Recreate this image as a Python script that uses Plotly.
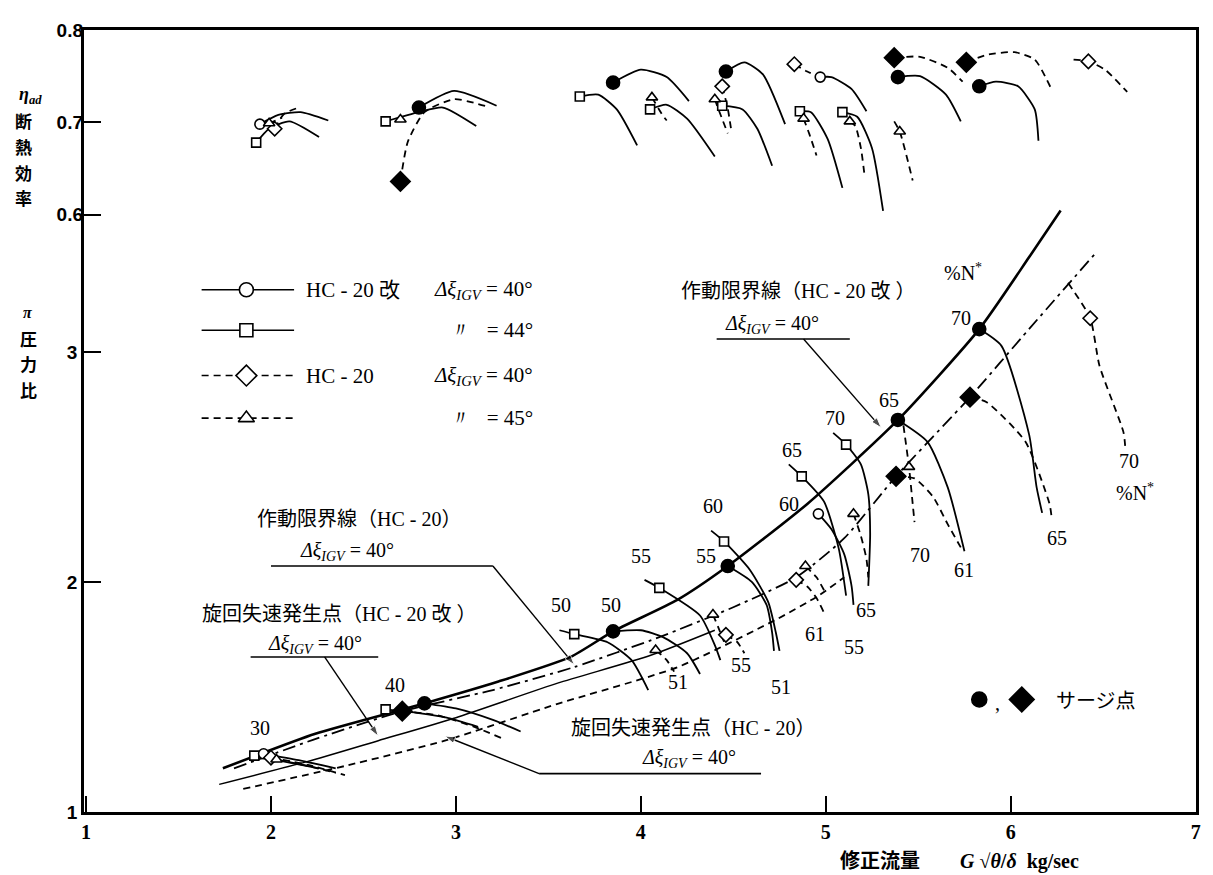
import plotly.graph_objects as go

# ---------------- DATA (flow G*sqrt(theta)/delta [kg/s], pressure ratio pi, efficiency eta) ----------------
# Operating-limit (surge) line HC-20 kai, IGV 40 deg (solid, thick)
SURGE_K_X = [1.74, 2.24, 2.71, 2.83, 3.23, 3.62, 3.85, 4.20, 4.47, 4.90, 5.39, 5.83, 6.10, 6.27]
SURGE_K_PI = [1.19, 1.34, 1.445, 1.472, 1.567, 1.674, 1.785, 1.923, 2.069, 2.339, 2.704, 3.099, 3.412, 3.614]
# Operating-limit line HC-20, IGV 40 deg (dash-dot)
SURGE_H_X = [1.80, 2.25, 2.71, 3.20, 3.64, 4.10, 4.50, 4.84, 5.10, 5.38, 5.78, 6.10, 6.46]
SURGE_H_PI = [1.19, 1.32, 1.438, 1.53, 1.63, 1.76, 1.89, 2.02, 2.19, 2.459, 2.803, 3.10, 3.43]
# Rotating-stall onset HC-20 kai (thin solid)
STALL_K_X = [1.72, 2.20, 2.58, 3.00, 3.55, 4.05, 4.40]
STALL_K_PI = [1.12, 1.22, 1.31, 1.41, 1.56, 1.68, 1.79]
# Rotating-stall onset HC-20 (dashed)
STALL_H_X = [1.85, 2.40, 2.94, 3.55, 4.20, 4.74, 4.96, 5.10]
STALL_H_PI = [1.10, 1.20, 1.31, 1.47, 1.63, 1.84, 1.94, 2.02]

# Speed lines, pressure plane -- HC-20 kai 44 deg (solid, open square)
SQ30_X = [1.91, 2.10, 2.26];             SQ30_PI = [1.245, 1.215, 1.19]
SQ40_X = [2.62, 2.80, 2.95, 3.12];       SQ40_PI = [1.446, 1.43, 1.41, 1.37]
SQ50_X = [3.56, 3.64, 3.82, 3.95, 4.04]; SQ50_PI = [1.79, 1.773, 1.738, 1.66, 1.53]
SQ55_X = [4.02, 4.10, 4.32, 4.40, 4.43]; SQ55_PI = [2.009, 1.974, 1.854, 1.725, 1.66]
SQ60_X = [4.38, 4.45, 4.59, 4.69, 4.73, 4.75]; SQ60_PI = [2.223, 2.176, 2.052, 1.91, 1.78, 1.70]
SQ65_X = [4.80, 4.87, 4.99, 5.07, 5.11]; SQ65_PI = [2.511, 2.459, 2.35, 2.146, 1.94]
SQ70_X = [5.04, 5.11, 5.19, 5.23, 5.24, 5.23]; SQ70_PI = [2.648, 2.597, 2.511, 2.382, 2.21, 1.983]
# HC-20 kai 40 deg (solid, circle)
C30_X = [1.96, 2.15, 2.35];              C30_PI = [1.253, 1.225, 1.19]
C40_X = [2.83, 3.00, 3.20, 3.35];        C40_PI = [1.472, 1.45, 1.40, 1.35]
C50_X = [3.85, 4.00, 4.12, 4.25, 4.32];  C50_PI = [1.785, 1.79, 1.76, 1.69, 1.60]
C55_X = [4.47, 4.60, 4.68, 4.71, 4.72];  C55_PI = [2.069, 2.00, 1.90, 1.78, 1.70]
C60_X = [4.96, 5.03, 5.10, 5.14, 5.15];  C60_PI = [2.296, 2.23, 2.12, 1.98, 1.90]
C65_X = [5.39, 5.55, 5.66, 5.75];        C65_PI = [2.704, 2.609, 2.41, 2.133]
C70_X = [5.83, 5.95, 6.10, 6.14, 6.17];  C70_PI = [3.099, 3.026, 2.639, 2.412, 2.30]
# HC-20 40 deg (dashed, diamond)
D30_X = [2.00, 2.20, 2.40];              D30_PI = [1.236, 1.205, 1.16]
D40_X = [2.71, 2.90, 3.10, 3.25];        D40_PI = [1.438, 1.42, 1.37, 1.32]
D55_X = [4.46, 4.52, 4.56];              D55_PI = [1.77, 1.74, 1.69]
D61_X = [4.84, 4.90, 4.95, 4.99];        D61_PI = [2.009, 1.98, 1.93, 1.867]
D61S_X = [5.38, 5.48, 5.58, 5.66, 5.73]; D61S_PI = [2.459, 2.45, 2.37, 2.25, 2.15]
D65S_X = [5.78, 5.87, 6.08, 6.21, 6.22]; D65S_PI = [2.803, 2.781, 2.609, 2.339, 2.29]
D70_X = [6.31, 6.43, 6.48, 6.61, 6.62];  D70_PI = [3.30, 3.146, 2.94, 2.65, 2.58]
# HC-20 45 deg (dashed, triangle)
T30_X = [2.03, 2.20, 2.35];              T30_PI = [1.228, 1.20, 1.17]
T51_X = [4.08, 4.14, 4.18];              T51_PI = [1.704, 1.66, 1.61]
T55_X = [4.39, 4.42, 4.45];              T55_PI = [1.858, 1.80, 1.74]
T61_X = [4.89, 4.95, 5.00];              T61_PI = [2.069, 2.02, 1.95]
T65_X = [5.15, 5.19, 5.22, 5.23];        T65_PI = [2.296, 2.20, 2.10, 2.02]
T70_X = [5.42, 5.45, 5.47, 5.48];        T70_PI = [2.68, 2.50, 2.34, 2.26]

# Efficiency plane
E_C30_X = [1.94, 2.04, 2.16, 2.31];       E_C30 = [0.698, 0.708, 0.711, 0.702]
E_SQ30_X = [1.92, 1.99, 2.10, 2.26];      E_SQ30 = [0.678, 0.693, 0.701, 0.684]
E_D30_X = [2.02, 2.07, 2.15];             E_D30 = [0.693, 0.709, 0.716]
E_T30_X = [1.99, 2.06];                   E_T30 = [0.699, 0.705]
E_C40_X = [2.80, 2.99, 3.22];             E_C40 = [0.716, 0.734, 0.718]
E_D40_X = [2.70, 2.74, 2.83, 2.99, 3.17]; E_D40 = [0.636, 0.679, 0.711, 0.725, 0.717]
E_SQ40_X = [2.62, 2.80, 2.93, 3.11];      E_SQ40 = [0.701, 0.711, 0.716, 0.696]
E_T40_X = [2.70];                         E_T40 = [0.703]
E_SQ50_X = [3.67, 3.77, 3.87, 3.98];      E_SQ50 = [0.728, 0.730, 0.714, 0.675]
E_C50_X = [3.85, 4.00, 4.14, 4.26];       E_C50 = [0.743, 0.757, 0.749, 0.723]
E_SQ55_X = [4.05, 4.14, 4.25, 4.40];      E_SQ55 = [0.714, 0.719, 0.704, 0.663]
E_T51_X = [4.06, 4.12, 4.14];             E_T51 = [0.727, 0.707, 0.702]
E_C55_X = [4.46, 4.56, 4.66, 4.78];       E_C55 = [0.755, 0.765, 0.752, 0.698]
E_D55_X = [4.44, 4.47, 4.49];             E_D55 = [0.739, 0.715, 0.690]
E_SQ60_X = [4.44, 4.55, 4.63, 4.71];      E_SQ60 = [0.718, 0.714, 0.693, 0.653]
E_T55_X = [4.40, 4.42, 4.47];             E_T55 = [0.725, 0.714, 0.688]
E_D61_X = [4.83, 4.90, 4.97];             E_D61 = [0.763, 0.755, 0.749]
E_C60_X = [4.97, 5.03, 5.14, 5.22];       E_C60 = [0.749, 0.749, 0.736, 0.712]
E_SQ65_X = [4.86, 4.92, 5.01, 5.09];      E_SQ65 = [0.712, 0.711, 0.682, 0.629]
E_T61_X = [4.88, 4.91, 4.95];             E_T61 = [0.704, 0.688, 0.664]
E_SQ70_X = [5.09, 5.17, 5.25, 5.31];      E_SQ70 = [0.711, 0.706, 0.672, 0.604]
E_T65_X = [5.13, 5.16, 5.19, 5.21];       E_T65 = [0.701, 0.696, 0.672, 0.642]
E_D61S_X = [5.37, 5.51, 5.66, 5.74];      E_D61S = [0.770, 0.771, 0.759, 0.744]
E_C65_X = [5.39, 5.51, 5.65, 5.73];       E_C65 = [0.749, 0.750, 0.730, 0.701]
E_T70_X = [5.37, 5.40, 5.47];             E_T70 = [0.701, 0.690, 0.637]
E_D65S_X = [5.76, 5.87, 6.02, 6.13, 6.22]; E_D65S = [0.765, 0.773, 0.776, 0.768, 0.736]
E_C70_X = [5.83, 5.92, 6.04, 6.13, 6.15]; E_C70 = [0.739, 0.744, 0.739, 0.714, 0.680]
E_D70_X = [6.34, 6.42, 6.51, 6.63];       E_D70 = [0.768, 0.766, 0.757, 0.733]

# Speed labels (% N*)
SPD_TXT = ["30", "40", "50", "50", "55", "55", "60", "60", "65", "70", "65", "70",
           "51", "55", "51", "61", "55", "65", "70", "61", "65", "70"]
SPD_X = [1.94, 2.67, 3.57, 3.84, 4.00, 4.35, 4.39, 4.80, 4.82, 5.05, 5.34, 5.73,
         4.20, 4.54, 4.76, 4.94, 5.15, 5.22, 5.51, 5.75, 6.25, 6.64]
SPD_PI = [1.365, 1.554, 1.901, 1.901, 2.112, 2.112, 2.330, 2.339, 2.575, 2.712, 2.790, 3.146,
          1.567, 1.639, 1.545, 1.773, 1.717, 1.880, 2.116, 2.052, 2.189, 2.524]

X_TICKS = [1, 2, 3, 4, 5, 6, 7]
PI_TICKS = [1, 2, 3]
ETA_TICKS = [0.6, 0.7, 0.8]

# ---------------- STYLE ----------------
SERIF = "Liberation Serif"
CJK = "Noto Sans CJK JP"
W = 1.8

fig = go.Figure()


def line(x, y, dash="solid", width=W, axis="y"):
    fig.add_trace(go.Scatter(x=x, y=y, mode="lines", yaxis=axis, hoverinfo="skip", showlegend=False,
                             line=dict(color="black", width=width, dash=dash, shape="spline", smoothing=0.6)))


def mark(x, y, symbol, size, filled, axis="y"):
    fig.add_trace(go.Scatter(x=[x], y=[y], mode="markers", yaxis=axis, hoverinfo="skip", showlegend=False,
                             marker=dict(symbol=symbol, size=size, color="black" if filled else "white",
                                         line=dict(color="black", width=1.6))))


def leader(x0, y0, x1, y1):
    fig.add_trace(go.Scatter(x=[x0, x1], y=[y0, y1], mode="lines+markers", hoverinfo="skip", showlegend=False,
                             line=dict(color="black", width=1.4),
                             marker=dict(symbol="arrow", size=[0, 11], angleref="previous", color="black")))


DASH = "7px,5px"
DASHDOT = "13px,5px,3px,5px"
SYM = {"c": ("circle", 10), "s": ("square", 9), "d": ("diamond", 11), "t": ("triangle-up", 10)}
SYM_F = {"c": ("circle", 13), "d": ("diamond", 15)}

# main limit lines
line(SURGE_K_X, SURGE_K_PI, "solid", 2.6)
line(SURGE_H_X, SURGE_H_PI, DASHDOT, 1.8)
line(STALL_K_X, STALL_K_PI, "solid", 1.5)
line(STALL_H_X, STALL_H_PI, DASH, 1.8)

# (x, y, dash, symbol kind, filled, marker index, axis)
SPEED_LINES = [
    (SQ30_X, SQ30_PI, "solid", "s", False, 0, "y"), (SQ40_X, SQ40_PI, "solid", "s", False, 0, "y"),
    (SQ50_X, SQ50_PI, "solid", "s", False, 1, "y"), (SQ55_X, SQ55_PI, "solid", "s", False, 1, "y"),
    (SQ60_X, SQ60_PI, "solid", "s", False, 1, "y"), (SQ65_X, SQ65_PI, "solid", "s", False, 1, "y"),
    (SQ70_X, SQ70_PI, "solid", "s", False, 1, "y"),
    (C30_X, C30_PI, "solid", "c", False, 0, "y"), (C40_X, C40_PI, "solid", "c", True, 0, "y"),
    (C50_X, C50_PI, "solid", "c", True, 0, "y"), (C55_X, C55_PI, "solid", "c", True, 0, "y"),
    (C60_X, C60_PI, "solid", "c", False, 0, "y"), (C65_X, C65_PI, "solid", "c", True, 0, "y"),
    (C70_X, C70_PI, "solid", "c", True, 0, "y"),
    (D30_X, D30_PI, DASH, "d", False, 0, "y"), (D40_X, D40_PI, DASH, "d", True, 0, "y"),
    (D55_X, D55_PI, DASH, "d", False, 0, "y"), (D61_X, D61_PI, DASH, "d", False, 0, "y"),
    (D61S_X, D61S_PI, DASH, "d", True, 0, "y"), (D65S_X, D65S_PI, DASH, "d", True, 0, "y"),
    (D70_X, D70_PI, DASH, "d", False, 1, "y"),
    (T30_X, T30_PI, DASH, "t", False, 0, "y"), (T51_X, T51_PI, DASH, "t", False, 0, "y"),
    (T55_X, T55_PI, DASH, "t", False, 0, "y"), (T61_X, T61_PI, DASH, "t", False, 0, "y"),
    (T65_X, T65_PI, DASH, "t", False, 0, "y"), (T70_X, T70_PI, DASH, "t", False, 1, "y"),
    # efficiency plane
    (E_C30_X, E_C30, "solid", "c", False, 0, "y2"), (E_SQ30_X, E_SQ30, "solid", "s", False, 0, "y2"),
    (E_D30_X, E_D30, DASH, "d", False, 0, "y2"), (E_T30_X, E_T30, DASH, "t", False, 0, "y2"),
    (E_C40_X, E_C40, "solid", "c", True, 0, "y2"), (E_D40_X, E_D40, DASH, "d", True, 0, "y2"),
    (E_SQ40_X, E_SQ40, "solid", "s", False, 0, "y2"), (E_T40_X, E_T40, DASH, "t", False, 0, "y2"),
    (E_SQ50_X, E_SQ50, "solid", "s", False, 0, "y2"), (E_C50_X, E_C50, "solid", "c", True, 0, "y2"),
    (E_SQ55_X, E_SQ55, "solid", "s", False, 0, "y2"), (E_T51_X, E_T51, DASH, "t", False, 0, "y2"),
    (E_C55_X, E_C55, "solid", "c", True, 0, "y2"), (E_D55_X, E_D55, DASH, "d", False, 0, "y2"),
    (E_SQ60_X, E_SQ60, "solid", "s", False, 0, "y2"), (E_T55_X, E_T55, DASH, "t", False, 0, "y2"),
    (E_D61_X, E_D61, DASH, "d", False, 0, "y2"), (E_C60_X, E_C60, "solid", "c", False, 0, "y2"),
    (E_SQ65_X, E_SQ65, "solid", "s", False, 0, "y2"), (E_T61_X, E_T61, DASH, "t", False, 0, "y2"),
    (E_SQ70_X, E_SQ70, "solid", "s", False, 0, "y2"), (E_T65_X, E_T65, DASH, "t", False, 0, "y2"),
    (E_D61S_X, E_D61S, DASH, "d", True, 0, "y2"), (E_C65_X, E_C65, "solid", "c", True, 0, "y2"),
    (E_T70_X, E_T70, DASH, "t", False, 1, "y2"), (E_D65S_X, E_D65S, DASH, "d", True, 0, "y2"),
    (E_C70_X, E_C70, "solid", "c", True, 0, "y2"), (E_D70_X, E_D70, DASH, "d", False, 1, "y2"),
]

for xs, ys, dash, kind, filled, mi, ax in SPEED_LINES:
    if len(xs) > 1:
        line(xs, ys, dash, W, ax)
for xs, ys, dash, kind, filled, mi, ax in SPEED_LINES:
    sym, size = (SYM_F[kind] if filled else SYM[kind])
    mark(xs[mi], ys[mi], sym, size, filled, ax)

annotations = []
for t, x, y in zip(SPD_TXT, SPD_X, SPD_PI):
    annotations.append(dict(x=x, y=y, xref="x", yref="y", text=t, showarrow=False,
                            font=dict(family=SERIF, size=20, color="black")))
for x, y in [(5.74, 3.348), (6.67, 2.391)]:
    annotations.append(dict(x=x, y=y, xref="x", yref="y", text="%N<sup>*</sup>", showarrow=False,
                            font=dict(family=SERIF, size=20, color="black")))

DXI = "<i>Δξ<sub>IGV</sub></i> = 40°"


def label_block(title, tx, ty, dx, dy, ux0, ux1, uy, tipx, tipy, lx):
    annotations.append(dict(x=tx, y=ty, xref="x", yref="y", text=title, showarrow=False,
                            font=dict(family=SERIF + ", " + CJK, size=20, color="black")))
    annotations.append(dict(x=dx, y=dy, xref="x", yref="y", text=DXI, showarrow=False,
                            font=dict(family=SERIF, size=20, color="black")))
    fig.add_shape(type="line", x0=ux0, x1=ux1, y0=uy, y1=uy, xref="x", yref="y",
                  line=dict(color="black", width=1.6))
    leader(lx, uy, tipx, tipy)


label_block("作動限界線（HC - 20 改 ）", 4.85, 3.265, 4.71, 3.118, 4.41, 5.13, 3.056, 5.30, 2.67, 4.88)
label_block("作動限界線（HC - 20）", 2.475, 2.275, 2.41, 2.132, 2.00, 3.20, 2.069, 3.64, 1.64, 3.20)
label_block("旋回失速発生点（HC - 20 改 ）", 2.37, 1.862, 2.24, 1.727, 1.89, 2.58, 1.674, 2.58, 1.33, 2.29)
label_block("旋回失速発生点（HC - 20）", 4.28, 1.366, 4.26, 1.232, 3.45, 4.65, 1.167, 2.94, 1.33, 3.45)

# Legend (upper-left box)
LEG_X0, LEG_XM, LEG_X1 = 1.625, 1.867, 2.125
LEG_ROWS = [3.270, 3.094, 2.897, 2.712]
LEG_STYLE = [("solid", "c"), ("solid", "s"), (DASH, "d"), (DASH, "t")]
LEG_SIZE = {"c": 14, "s": 13, "d": 16, "t": 14}
for yy, (dash, kind) in zip(LEG_ROWS, LEG_STYLE):
    fig.add_trace(go.Scatter(x=[LEG_X0, LEG_X1], y=[yy, yy], mode="lines", hoverinfo="skip", showlegend=False,
                             line=dict(color="black", width=1.6, dash=dash)))
    mark(LEG_XM, yy, SYM[kind][0], LEG_SIZE[kind], False)
LEG_LEFT_TXT = ["HC - 20 改", "", "HC - 20", ""]
LEG_RIGHT_TXT = [DXI, "〃   = 44°", DXI, "〃   = 45°"]
for yy, lt, rt in zip(LEG_ROWS, LEG_LEFT_TXT, LEG_RIGHT_TXT):
    if lt:
        annotations.append(dict(x=2.18, y=yy, xref="x", yref="y", xanchor="left", text=lt, showarrow=False,
                                font=dict(family=SERIF + ", " + CJK, size=21, color="black")))
    annotations.append(dict(x=3.43, y=yy, xref="x", yref="y", xanchor="right", text=rt, showarrow=False,
                            font=dict(family=SERIF, size=21, color="black")))

# Surge-point key
mark(5.83, 1.489, "circle", 15, True)
mark(6.06, 1.489, "diamond", 19, True)
annotations.append(dict(x=5.93, y=1.475, xref="x", yref="y", text=",", showarrow=False,
                        font=dict(family=SERIF, size=20, color="black")))
annotations.append(dict(x=6.46, y=1.489, xref="x", yref="y", text="サージ点", showarrow=False,
                        font=dict(family=CJK, size=20, color="black")))

# Axis titles (paper coords relative to the plot area); vertical titles are stacked one glyph per line
annotations.append(dict(x=-0.0485, y=0.9167, xref="paper", yref="paper", xanchor="center", yanchor="middle",
                        text="<i>η<sub>ad</sub></i>", showarrow=False,
                        font=dict(family=SERIF, size=18, color="black", weight="bold")))
annotations.append(dict(x=-0.0505, y=0.6389, xref="paper", yref="paper", xanchor="center", yanchor="middle",
                        text="<i>π</i>", showarrow=False,
                        font=dict(family=SERIF, size=16, color="black", weight="bold")))
ETA_TITLE_Y = [0.8838, 0.8510, 0.8182, 0.7854]
PI_TITLE_Y = [0.6061, 0.5732, 0.5404]
for ch, yy in zip("断熱効率", ETA_TITLE_Y):
    annotations.append(dict(x=-0.0548, y=yy, xref="paper", yref="paper", xanchor="center", yanchor="middle",
                            text=ch, showarrow=False,
                            font=dict(family=CJK, size=17, color="black", weight="bold")))
for ch, yy in zip("圧力比", PI_TITLE_Y):
    annotations.append(dict(x=-0.0503, y=yy, xref="paper", yref="paper", xanchor="center", yanchor="middle",
                            text=ch, showarrow=False,
                            font=dict(family=CJK, size=17, color="black", weight="bold")))
annotations.append(dict(x=0.787, y=-0.063, xref="paper", yref="paper", xanchor="center", yanchor="middle",
                        text="修正流量　　<i>G</i> √<i>θ</i>/<i>δ</i>  kg/sec", showarrow=False,
                        font=dict(family=SERIF + ", " + CJK, size=20, color="black", weight="bold")))

# The page body adds an 8 px margin; the figure is sized so the plot area lands on the reference frame.
fig.update_layout(
    width=1205, height=867, margin=dict(l=76, r=15, t=12, b=63),
    paper_bgcolor="white", plot_bgcolor="white", showlegend=False,
    annotations=annotations,
    xaxis=dict(range=[0.989, 7.002], tickvals=X_TICKS, ticktext=[str(v) for v in X_TICKS],
               ticks="inside", ticklen=16, tickwidth=2, tickcolor="black",
               showline=True, mirror=True, linecolor="black", linewidth=2.5,
               showgrid=False, zeroline=False,
               tickfont=dict(family=SERIF, size=20, color="black", weight="bold")),
    yaxis=dict(range=[1.0, 4.399], tickvals=PI_TICKS, ticktext=[str(v) for v in PI_TICKS],
               ticks="inside", ticklen=17, tickwidth=2, tickcolor="black",
               showline=True, mirror=True, linecolor="black", linewidth=2.5,
               showgrid=False, zeroline=False,
               tickfont=dict(family="Liberation Sans", size=19, color="black", weight="bold")),
    yaxis2=dict(range=[-0.047, 0.8], overlaying="y", side="left", anchor="x",
                tickvals=ETA_TICKS, ticktext=["%.1f" % v for v in ETA_TICKS],
                ticks="inside", ticklen=17, tickwidth=2, tickcolor="black",
                showline=False, showgrid=False, zeroline=False,
                tickfont=dict(family="Liberation Sans", size=19, color="black", weight="bold")),
)

fig.write_html("out.html")
